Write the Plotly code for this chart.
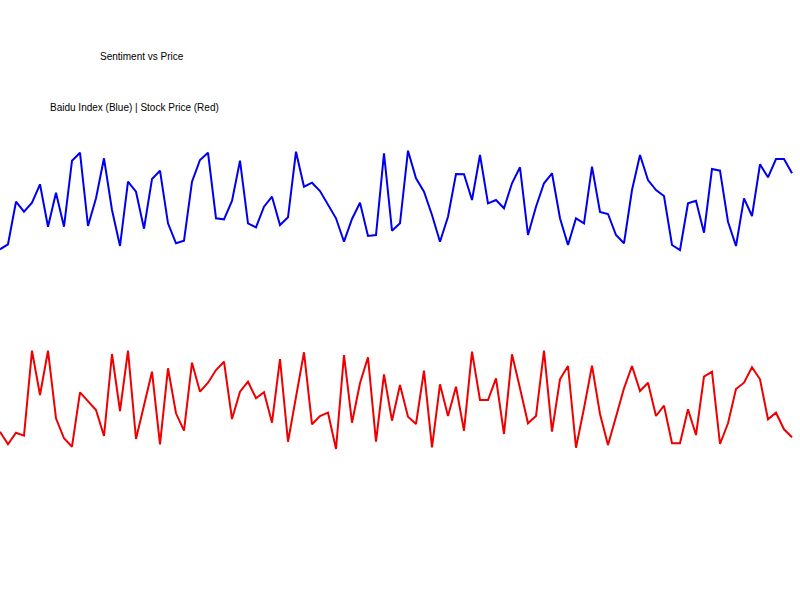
import plotly.graph_objects as go

# Height (in chart units, 0 at bottom, 600 at top)
idx = list(range(100))

baidu_index = [249.3, 244.3, 201.7, 211.7, 202.7, 184.3, 226.7, 192.7, 226.7, 160.7,
               152.7, 226.0, 198.3, 158.3, 210.0, 246.0, 181.7, 191.7, 228.7, 179.0,
               170.7, 223.3, 243.3, 240.7, 181.7, 160.0, 152.7, 218.3, 219.3, 201.0,
               160.7, 223.3, 227.3, 206.7, 196.7, 225.0, 217.3, 151.7, 186.7, 182.7,
               191.0, 205.0, 218.3, 241.7, 219.0, 202.7, 236.0, 235.0, 153.3, 230.7,
               223.3, 150.7, 178.3, 191.7, 215.0, 241.7, 216.7, 174.0, 174.3, 200.0,
               155.0, 203.3, 200.0, 208.3, 183.3, 167.3, 235.0, 206.7, 183.3, 173.3,
               218.3, 245.0, 218.3, 223.3, 166.7, 212.0, 214.0, 235.0, 243.3, 190.0,
               155.0, 180.0, 190.0, 196.0, 245.0, 250.0, 203.3, 200.7, 232.7, 169.0,
               170.7, 221.7, 246.0, 198.3, 216.0, 164.3, 177.3, 159.0, 159.0, 173.3]

stock_price = [431.7, 444.3, 432.7, 435.7, 350.7, 395.0, 350.7, 418.3, 438.3, 446.7,
               392.3, 401.7, 410.0, 436.0, 354.0, 411.0, 350.7, 439.0, 405.0, 371.7,
               444.3, 368.3, 413.3, 430.7, 362.7, 391.7, 382.7, 370.0, 361.7, 419.0,
               391.7, 381.7, 398.3, 392.3, 422.7, 359.0, 441.7, 396.7, 352.3, 424.3,
               416.0, 412.7, 449.0, 355.0, 422.7, 383.3, 357.3, 441.7, 374.3, 420.7,
               385.0, 416.7, 424.0, 370.7, 447.3, 384.3, 416.0, 386.7, 430.7, 351.7,
               400.0, 400.0, 378.3, 434.0, 354.3, 388.3, 423.3, 416.0, 350.7, 431.7,
               379.3, 366.0, 447.7, 408.3, 365.7, 414.0, 445.0, 416.7, 388.3, 366.0,
               391.0, 382.7, 416.0, 405.7, 443.3, 443.3, 409.3, 435.0, 376.7, 371.7,
               444.0, 423.3, 389.0, 382.7, 367.3, 379.3, 419.3, 412.7, 429.3, 437.3]

# convert pixel-from-top readings into heights from the bottom
baidu_vals = [600 - v for v in baidu_index]
price_vals = [600 - v for v in stock_price]

title_text = "Sentiment vs Price"
subtitle_text = "Baidu Index (Blue) | Stock Price (Red)"

fig = go.Figure()
fig.add_trace(go.Scatter(x=idx, y=baidu_vals, mode="lines",
                         line=dict(color="#0000ee", width=2), showlegend=False))
fig.add_trace(go.Scatter(x=idx, y=price_vals, mode="lines",
                         line=dict(color="#ee0000", width=2), showlegend=False))

fig.update_layout(
    width=800, height=600,
    margin=dict(l=0, r=0, t=0, b=0),
    paper_bgcolor="white", plot_bgcolor="white",
    xaxis=dict(range=[0, 100], visible=False),
    yaxis=dict(range=[0, 600], visible=False),
    font=dict(family="Liberation Sans, Arial, sans-serif", size=10, color="black"),
    annotations=[
        dict(text=title_text, x=98 / 800, y=1 - 56 / 600, xref="paper", yref="paper",
             xanchor="left", yanchor="middle", showarrow=False,
             font=dict(size=10, color="black")),
        dict(text=subtitle_text, x=48 / 800, y=1 - 107 / 600, xref="paper", yref="paper",
             xanchor="left", yanchor="middle", showarrow=False,
             font=dict(size=10, color="black")),
    ],
)

fig.write_html("out.html")
